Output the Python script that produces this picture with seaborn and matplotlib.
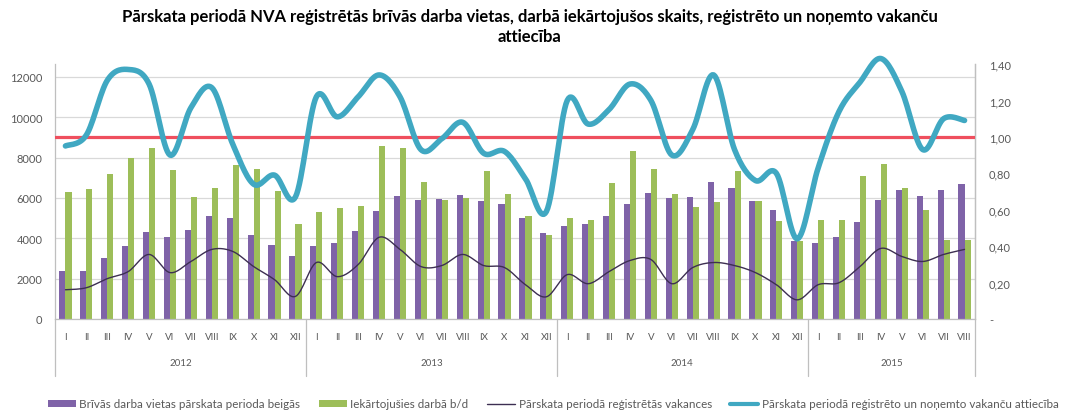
import numpy as np
import pandas as pd
import matplotlib
matplotlib.use("Agg")
import matplotlib.pyplot as plt
import matplotlib.transforms as mtrans
from matplotlib.lines import Line2D
from matplotlib.patches import Patch
import seaborn as sns

# ---------------- data ----------------
years = ["2012", "2013", "2014", "2015"]
months_per_year = [12, 12, 12, 8]
month_names = ["I", "II", "III", "IV", "V", "VI", "VII", "VIII", "IX", "X", "XI", "XII"]

free_vacancies = [  # Brīvās darba vietas pārskata perioda beigās
    2400, 2400, 3000, 3600, 4300, 4050, 4400, 5100, 5000, 4150, 3650, 3100,
    3600, 3750, 4350, 5350, 6100, 5900, 5950, 6150, 5850, 5700, 5000, 4250,
    4600, 4700, 5100, 5700, 6250, 6000, 6050, 6800, 6500, 5850, 5400, 3850,
    3750, 4050, 4800, 5900, 6400, 6100, 6400, 6700]
employed = [  # Iekārtojušies darbā b/d
    6300, 6450, 7200, 8000, 8500, 7400, 6050, 6500, 7650, 7450, 6350, 4700,
    5300, 5500, 5600, 8600, 8500, 6800, 5900, 6000, 7350, 6200, 5100, 4150,
    5000, 4900, 6750, 8350, 7450, 6200, 5550, 5800, 7350, 5850, 4850, 3880,
    4900, 4900, 7100, 7700, 6500, 5400, 3930, 3930]
registered = [  # Pārskata periodā reģistrētās vakances
    1450, 1550, 2000, 2350, 3200, 2300, 2850, 3450, 3350, 2600, 1950, 1120,
    2800, 2100, 2700, 4050, 3450, 2600, 2650, 3200, 2650, 2550, 1700, 1100,
    2200, 1750, 2350, 2900, 2950, 1750, 2550, 2800, 2650, 2300, 1700, 950,
    1700, 1800, 2600, 3500, 3100, 2850, 3200, 3450]
ratio = [  # Pārskata periodā reģistrēto un noņemto vakanču attiecība
    0.95, 1.01, 1.31, 1.37, 1.29, 0.90, 1.16, 1.27, 0.96, 0.74, 0.79, 0.67,
    1.22, 1.11, 1.22, 1.34, 1.22, 0.93, 0.99, 1.08, 0.91, 0.92, 0.77, 0.59,
    1.20, 1.07, 1.15, 1.29, 1.20, 0.90, 1.04, 1.34, 0.93, 0.76, 0.80, 0.44,
    0.83, 1.14, 1.30, 1.43, 1.25, 0.93, 1.10, 1.09]
reference_ratio = 1.0

left_ticks = [0, 2000, 4000, 6000, 8000, 10000, 12000]
right_ticks = [0, 0.2, 0.4, 0.6, 0.8, 1.0, 1.2, 1.4]

title = ("Pārskata periodā NVA reģistrētās brīvās darba vietas, darbā iekārtojušos skaits, "
         "reģistrēto un noņemto vakanču\nattiecība")
lbl_free = "Brīvās darba vietas pārskata perioda beigās"
lbl_emp = "Iekārtojušies darbā b/d"
lbl_reg = "Pārskata periodā reģistrētās vakances"
lbl_ratio = "Pārskata periodā reģistrēto un noņemto vakanču attiecība"

# ---------------- styling ----------------
sns.set_style("white")
plt.rcParams["font.family"] = ["Lato", "DejaVu Sans"]

C_PURPLE = "#7F63A8"
C_GREEN = "#9DBE59"
C_LINE = "#3D2F52"
C_CYAN = "#40A8C2"
C_RED = "#EF4F5E"
C_TXT = "#595959"
C_GRID = "#D9D9D9"

month_labels = []
for y, n in zip(years, months_per_year):
    month_labels += month_names[:n]
N = len(month_labels)
cat_ids = [f"{i:02d}" for i in range(N)]

df = pd.DataFrame({
    "cat": cat_ids * 2,
    "value": free_vacancies + employed,
    "series": [lbl_free] * N + [lbl_emp] * N,
})

fig = plt.figure(figsize=(10.7, 4.14), dpi=100)
W, H = 1070, 414
x0, x1, ytop, ybot = 55, 975, 65, 320
ax = fig.add_axes([x0 / W, 1 - ybot / H, (x1 - x0) / W, (ybot - ytop) / H])

sns.barplot(data=df, x="cat", y="value", hue="series", order=cat_ids,
            hue_order=[lbl_free, lbl_emp], palette=[C_PURPLE, C_GREEN],
            width=0.58, gap=0, ax=ax, legend=False, saturation=1)
for p in ax.patches:
    p.set_edgecolor("none")

ax.set_xlim(-0.5, N - 0.5)
ax.set_ylim(0, 12640)
ax.set_yticks(left_ticks)
ax.set_yticklabels([str(v) for v in left_ticks])
ax.grid(axis="y", color=C_GRID, linewidth=0.9)
ax.set_axisbelow(True)
ax.set_xlabel("")
ax.set_ylabel("")
ax.tick_params(axis="y", length=0, labelsize=8, labelcolor=C_TXT, pad=9)
ax.set_xticks([])
ax.spines["top"].set_visible(False)
for s in ["left", "right", "bottom"]:
    ax.spines[s].set_color("#BFBFBF")
    ax.spines[s].set_linewidth(0.9)


def smooth(xs, ys, n=16):
    """Catmull-Rom rendering of a line through the given points (Excel 'smoothed line' look)."""
    xs = np.asarray(xs, float)
    ys = np.asarray(ys, float)
    P = np.column_stack([xs, ys])
    P = np.vstack([P[0], P, P[-1]])
    out = []
    t = np.linspace(0, 1, n, endpoint=False)
    for i in range(1, len(P) - 2):
        p0, p1, p2, p3 = P[i - 1], P[i], P[i + 1], P[i + 2]
        tt = t[:, None]
        seg = 0.5 * ((2 * p1) + (-p0 + p2) * tt + (2 * p0 - 5 * p1 + 4 * p2 - p3) * tt ** 2
                     + (-p0 + 3 * p1 - 3 * p2 + p3) * tt ** 3)
        out.append(seg)
    out.append(P[-2][None, :])
    out = np.vstack(out)
    return out[:, 0], out[:, 1]


xpos = np.arange(N)
sx, sy = smooth(xpos, registered)
ax.plot(sx, sy, color=C_LINE, linewidth=1.0, zorder=5)

ax2 = ax.twinx()
ax2.set_ylim(0, 1.40)
ax2.set_yticks(right_ticks)
ax2.set_yticklabels(["-"] + [f"{v:.2f}".replace(".", ",") for v in right_ticks[1:]])
ax2.tick_params(axis="y", length=0, labelsize=8, labelcolor=C_TXT, pad=10)
for s in ["top", "left", "bottom"]:
    ax2.spines[s].set_visible(False)
ax2.spines["right"].set_color("#BFBFBF")
ax2.spines["right"].set_linewidth(0.9)
ax2.grid(False)
ax2.axhline(reference_ratio, color=C_RED, linewidth=2.3, zorder=3)
rx, ry = smooth(xpos, ratio)
ax2.plot(rx, ry, color=C_CYAN, linewidth=4.0, zorder=6, clip_on=False,
         solid_capstyle="round", solid_joinstyle="round")
ax2.set_xlim(-0.5, N - 0.5)

# month labels, year labels and separators
trans = mtrans.blended_transform_factory(ax.transData, ax.transAxes)
hax = ybot - ytop
for i, m in enumerate(month_labels):
    ax.text(i, -(338 - ybot) / hax, m, transform=trans, ha="center", va="center",
            fontsize=7, color=C_TXT)
start = 0
bounds = [-0.5]
for y, n in zip(years, months_per_year):
    ax.text(start + (n - 1) / 2, -(364 - ybot) / hax, y, transform=trans, ha="center",
            va="center", fontsize=7, color=C_TXT)
    start += n
    bounds.append(start - 0.5)
for b in bounds:
    ax.plot([b, b], [0, -(377 - ybot) / hax], transform=trans, color="#BFBFBF",
            linewidth=0.9, clip_on=False)

fig.text(530 / W, 1 - 27 / H, title, ha="center", va="center", fontsize=12,
         fontweight="bold", color="#000000", linespacing=1.3)

handles = [
    Patch(facecolor=C_PURPLE, edgecolor="none"),
    Patch(facecolor=C_GREEN, edgecolor="none"),
    Line2D([], [], color=C_LINE, linewidth=1.0),
    Line2D([], [], color=C_CYAN, linewidth=3.0),
]
fig.legend(handles, [lbl_free, lbl_emp, lbl_reg, lbl_ratio], loc="center",
           bbox_to_anchor=(0.517, 1 - 405 / H), ncol=4, frameon=False, fontsize=8.4,
           labelcolor=C_TXT, handlelength=2.4, handleheight=0.5, handletextpad=0.3,
           columnspacing=1.6)

fig.savefig("out.png", dpi=100, facecolor="white")
